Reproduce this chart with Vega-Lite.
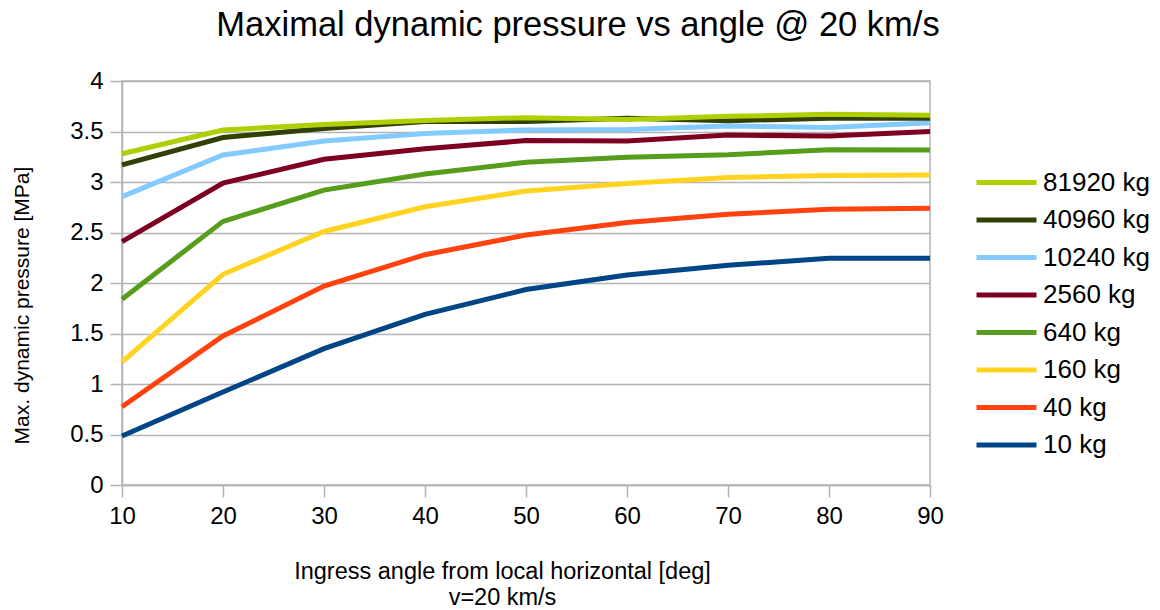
{
  "$schema": "https://vega.github.io/schema/vega-lite/v6.json",
  "width": 808,
  "height": 404,
  "autosize": {"type": "none"},
  "padding": {"left": 122, "top": 81, "right": 230, "bottom": 125},
  "background": "white",
  "config": {
    "font": "Liberation Sans",
    "view": {"stroke": "#b3b3b3", "strokeWidth": 1.5}
  },
  "title": {
    "text": "Maximal dynamic pressure vs angle @ 20 km/s",
    "fontSize": 34.5,
    "fontWeight": "normal",
    "font": "Liberation Sans",
    "color": "#000000",
    "anchor": "middle",
    "dx": 52,
    "offset": 26
  },
  "data": {
    "values": [
      {"angle": 10, "mass": "10 kg", "p": 0.485},
      {"angle": 20, "mass": "10 kg", "p": 0.92},
      {"angle": 30, "mass": "10 kg", "p": 1.35},
      {"angle": 40, "mass": "10 kg", "p": 1.69},
      {"angle": 50, "mass": "10 kg", "p": 1.935},
      {"angle": 60, "mass": "10 kg", "p": 2.08},
      {"angle": 70, "mass": "10 kg", "p": 2.175},
      {"angle": 80, "mass": "10 kg", "p": 2.245},
      {"angle": 90, "mass": "10 kg", "p": 2.245},
      {"angle": 10, "mass": "40 kg", "p": 0.775},
      {"angle": 20, "mass": "40 kg", "p": 1.475},
      {"angle": 30, "mass": "40 kg", "p": 1.97},
      {"angle": 40, "mass": "40 kg", "p": 2.28},
      {"angle": 50, "mass": "40 kg", "p": 2.475},
      {"angle": 60, "mass": "40 kg", "p": 2.6},
      {"angle": 70, "mass": "40 kg", "p": 2.68},
      {"angle": 80, "mass": "40 kg", "p": 2.73},
      {"angle": 90, "mass": "40 kg", "p": 2.74},
      {"angle": 10, "mass": "160 kg", "p": 1.22},
      {"angle": 20, "mass": "160 kg", "p": 2.086},
      {"angle": 30, "mass": "160 kg", "p": 2.51},
      {"angle": 40, "mass": "160 kg", "p": 2.755},
      {"angle": 50, "mass": "160 kg", "p": 2.91},
      {"angle": 60, "mass": "160 kg", "p": 2.985},
      {"angle": 70, "mass": "160 kg", "p": 3.045},
      {"angle": 80, "mass": "160 kg", "p": 3.065},
      {"angle": 90, "mass": "160 kg", "p": 3.07},
      {"angle": 10, "mass": "640 kg", "p": 1.84},
      {"angle": 20, "mass": "640 kg", "p": 2.61},
      {"angle": 30, "mass": "640 kg", "p": 2.92},
      {"angle": 40, "mass": "640 kg", "p": 3.08},
      {"angle": 50, "mass": "640 kg", "p": 3.195},
      {"angle": 60, "mass": "640 kg", "p": 3.245},
      {"angle": 70, "mass": "640 kg", "p": 3.27},
      {"angle": 80, "mass": "640 kg", "p": 3.32},
      {"angle": 90, "mass": "640 kg", "p": 3.317},
      {"angle": 10, "mass": "2560 kg", "p": 2.41},
      {"angle": 20, "mass": "2560 kg", "p": 2.99},
      {"angle": 30, "mass": "2560 kg", "p": 3.225},
      {"angle": 40, "mass": "2560 kg", "p": 3.33},
      {"angle": 50, "mass": "2560 kg", "p": 3.41},
      {"angle": 60, "mass": "2560 kg", "p": 3.405},
      {"angle": 70, "mass": "2560 kg", "p": 3.465},
      {"angle": 80, "mass": "2560 kg", "p": 3.455},
      {"angle": 90, "mass": "2560 kg", "p": 3.5},
      {"angle": 10, "mass": "10240 kg", "p": 2.855},
      {"angle": 20, "mass": "10240 kg", "p": 3.267},
      {"angle": 30, "mass": "10240 kg", "p": 3.405},
      {"angle": 40, "mass": "10240 kg", "p": 3.48},
      {"angle": 50, "mass": "10240 kg", "p": 3.515},
      {"angle": 60, "mass": "10240 kg", "p": 3.52},
      {"angle": 70, "mass": "10240 kg", "p": 3.555},
      {"angle": 80, "mass": "10240 kg", "p": 3.54},
      {"angle": 90, "mass": "10240 kg", "p": 3.587},
      {"angle": 10, "mass": "40960 kg", "p": 3.17},
      {"angle": 20, "mass": "40960 kg", "p": 3.44},
      {"angle": 30, "mass": "40960 kg", "p": 3.53},
      {"angle": 40, "mass": "40960 kg", "p": 3.6},
      {"angle": 50, "mass": "40960 kg", "p": 3.6},
      {"angle": 60, "mass": "40960 kg", "p": 3.63},
      {"angle": 70, "mass": "40960 kg", "p": 3.607},
      {"angle": 80, "mass": "40960 kg", "p": 3.63},
      {"angle": 90, "mass": "40960 kg", "p": 3.63},
      {"angle": 10, "mass": "81920 kg", "p": 3.28},
      {"angle": 20, "mass": "81920 kg", "p": 3.515},
      {"angle": 30, "mass": "81920 kg", "p": 3.57},
      {"angle": 40, "mass": "81920 kg", "p": 3.61},
      {"angle": 50, "mass": "81920 kg", "p": 3.637},
      {"angle": 60, "mass": "81920 kg", "p": 3.62},
      {"angle": 70, "mass": "81920 kg", "p": 3.65},
      {"angle": 80, "mass": "81920 kg", "p": 3.67},
      {"angle": 90, "mass": "81920 kg", "p": 3.66}
    ]
  },
  "mark": {"type": "line", "strokeWidth": 5, "strokeJoin": "miter", "strokeCap": "butt"},
  "encoding": {
    "x": {
      "field": "angle",
      "type": "quantitative",
      "scale": {"domain": [10, 90], "nice": false, "zero": false},
      "axis": {
        "values": [10, 20, 30, 40, 50, 60, 70, 80, 90],
        "grid": false,
        "domainColor": "#b3b3b3",
        "domainWidth": 1.5,
        "tickColor": "#b3b3b3",
        "tickWidth": 1.5,
        "tickSize": 12,
        "labelFlush": false,
        "labelFontSize": 24,
        "labelColor": "#000000",
        "labelPadding": 7,
        "labelFont": "Liberation Sans",
        "title": ["Ingress angle from local horizontal [deg]", "v=20 km/s"],
        "titleFontSize": 23.5,
        "titleFontWeight": "normal",
        "titleFont": "Liberation Sans",
        "titleColor": "#000000",
        "titleX": 380,
        "titleY": 93,
        "titleAnchor": "middle",
        "titleAlign": "center",
        "titleBaseline": "alphabetic",
        "titleLineHeight": 26
      }
    },
    "y": {
      "field": "p",
      "type": "quantitative",
      "scale": {"domain": [0, 4], "nice": false},
      "axis": {
        "values": [0, 0.5, 1, 1.5, 2, 2.5, 3, 3.5, 4],
        "format": "~g",
        "grid": true,
        "gridColor": "#b3b3b3",
        "gridWidth": 1.5,
        "domainColor": "#b3b3b3",
        "domainWidth": 1.5,
        "tickColor": "#b3b3b3",
        "tickWidth": 1.5,
        "tickSize": 12,
        "labelFlush": false,
        "labelFontSize": 24,
        "labelColor": "#000000",
        "labelPadding": 7,
        "labelFont": "Liberation Sans",
        "title": "Max. dynamic pressure [MPa]",
        "titleFontSize": 21,
        "titleFontWeight": "normal",
        "titleFont": "Liberation Sans",
        "titleColor": "#000000",
        "titleX": -100,
        "titleY": 224,
        "titleAngle": -90,
        "titleAlign": "center",
        "titleBaseline": "middle"
      }
    },
    "color": {
      "field": "mass",
      "type": "nominal",
      "scale": {
        "domain": ["81920 kg", "40960 kg", "10240 kg", "2560 kg", "640 kg", "160 kg", "40 kg", "10 kg"],
        "range": ["#aecf00", "#314004", "#83caff", "#7e0021", "#579d1c", "#ffd320", "#ff420e", "#004586"]
      },
      "legend": {
        "title": null,
        "orient": "none",
        "legendX": 867,
        "legendY": 84,
        "padding": 0,
        "symbolType": "M-2,0L2,0",
        "symbolStrokeWidth": 5,
        "symbolSize": 900,
        "labelFontSize": 26,
        "labelFont": "Liberation Sans",
        "labelColor": "#000000",
        "labelOffset": 19,
        "rowPadding": 6.5,
        "labelLimit": 250
      }
    }
  }
}
